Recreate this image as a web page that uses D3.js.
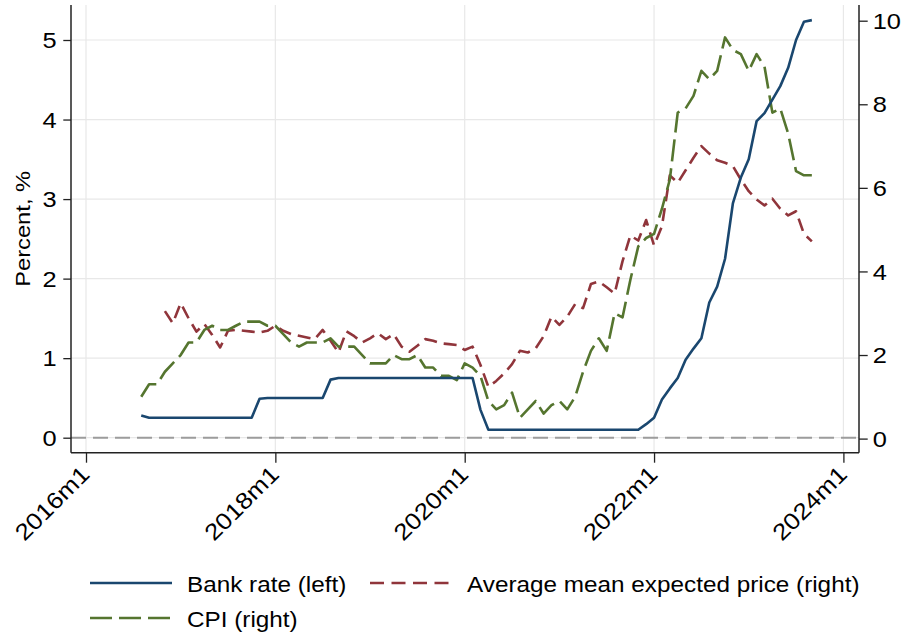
<!DOCTYPE html>
<html>
<head>
<meta charset="utf-8">
<script src="https://cdn.jsdelivr.net/npm/d3@7"></script>
<style>
  html, body { margin: 0; padding: 0; background: #fff; }
  svg { display: block; }
  text { font-family: "Liberation Sans", Arial, Helvetica, sans-serif; fill: #000; }
</style>
</head>
<body>
<svg id="chart" width="901" height="635"></svg>
<script>
// ---- data -------------------------------------------------------------
const xTickLabels = ["2016m1", "2018m1", "2020m1", "2022m1", "2024m1"];
const leftTicks = [0, 1, 2, 3, 4, 5];
const rightTicks = [0, 2, 4, 6, 8, 10];

// Bank rate, monthly average, % (left axis), from 2016m8
const bankStart = "2016m8";
const bankRate = [
  0.28, 0.25, 0.25, 0.25, 0.25,
  0.25, 0.25, 0.25, 0.25, 0.25, 0.25, 0.25, 0.25, 0.25, 0.25, 0.49, 0.50,
  0.50, 0.50, 0.50, 0.50, 0.50, 0.50, 0.50, 0.73, 0.75, 0.75, 0.75, 0.75,
  0.75, 0.75, 0.75, 0.75, 0.75, 0.75, 0.75, 0.75, 0.75, 0.75, 0.75, 0.75,
  0.75, 0.75, 0.35, 0.10, 0.10, 0.10, 0.10, 0.10, 0.10, 0.10, 0.10, 0.10,
  0.10, 0.10, 0.10, 0.10, 0.10, 0.10, 0.10, 0.10, 0.10, 0.10, 0.10, 0.17,
  0.25, 0.48, 0.62, 0.75, 0.98, 1.12, 1.25, 1.70, 1.90, 2.25, 2.95, 3.27,
  3.50, 3.98, 4.08, 4.25, 4.42, 4.65, 5.00, 5.23, 5.25
];

// CPI, annual % change (right axis), from 2016m8
const cpiStart = "2016m8";
const cpi = [
  1.0, 1.3, 1.3, 1.6, 1.8,
  2.0, 2.3, 2.3, 2.6, 2.7, 2.6, 2.6, 2.7, 2.8, 2.8, 2.8, 2.7,
  2.7, 2.5, 2.3, 2.2, 2.3, 2.3, 2.3, 2.4, 2.2, 2.2, 2.2, 2.0,
  1.8, 1.8, 1.8, 2.0, 1.9, 1.9, 2.0, 1.7, 1.7, 1.5, 1.5, 1.4,
  1.8, 1.7, 1.5, 0.9, 0.7, 0.8, 1.1, 0.5, 0.7, 0.9, 0.6, 0.8,
  0.9, 0.7, 1.0, 1.6, 2.1, 2.4, 2.1, 3.0, 2.9, 3.8, 4.6, 4.8,
  4.9, 5.5, 6.2, 7.8, 7.9, 8.2, 8.8, 8.6, 8.8, 9.6, 9.3, 9.2,
  8.8, 9.2, 8.9, 7.8, 7.9, 7.3, 6.4, 6.3, 6.3
];

// Average mean expected price growth, % (right axis), from 2016m11
const expStart = "2016m11";
const expectedPrice = [
  3.05, 2.76,
  3.24, 2.88, 2.56, 2.74, 2.48, 2.18, 2.58, 2.60, 2.58, 2.56, 2.54, 2.58,
  2.70, 2.58, 2.50, 2.46, 2.42, 2.38, 2.60, 2.34, 2.06, 2.57, 2.45, 2.30,
  2.40, 2.52, 2.38, 2.50, 2.20, 2.08, 2.22, 2.38, 2.34, 2.28, 2.26, 2.24,
  2.12, 2.20, 1.76, 1.24, 1.38, 1.56, 1.78, 2.10, 2.06, 2.16, 2.45, 2.92,
  2.72, 2.92, 3.22, 3.12, 3.70, 3.76, 3.62, 3.47, 4.24, 4.86, 4.74, 5.23,
  4.62, 5.08, 6.30, 6.12, 6.42, 6.72, 7.00, 6.82, 6.66, 6.60, 6.52, 6.20,
  5.92, 5.72, 5.58, 5.74, 5.50, 5.34, 5.44, 4.90, 4.72
];

const legendLabels = ["Bank rate (left)", "Average mean expected price (right)", "CPI (right)"];

// ---- helpers ----------------------------------------------------------
const monthIndex = s => { const [y, m] = s.split("m").map(Number); return (y - 2016) * 12 + (m - 1); };
const monthLabel = i => `${2016 + Math.floor(i / 12)}m${(i % 12) + 1}`;
const toPoints = (start, vals) => vals.map((v, k) => ({ i: monthIndex(start) + k, v }));

// ---- layout -----------------------------------------------------------
const svg = d3.select("#chart");
const W = 1.13;                       // horizontal widening of the typeface
const plot = { left: 71, right: 859, top: 5, bottom: 452.7 };
const colors = { bank: "#1a476f", exp: "#90353b", cpi: "#55752f" };

svg.append("rect").attr("width", 901).attr("height", 635).attr("fill", "#fff");

const x = d3.scaleLinear().domain([0, 96]).range([86, 843.4]);
const yL = d3.scaleLinear().domain([0, 5]).range([437.7, 40]);
const yR = d3.scaleLinear().domain([0, 10]).range([438.6, 20.7]);

const xTicks = xTickLabels.map(monthIndex);

// gridlines
const grid = svg.append("g").attr("stroke", "#e8e8e8").attr("stroke-width", 1.2);
grid.selectAll("line.v").data(xTicks).join("line")
  .attr("x1", d => x(d)).attr("x2", d => x(d))
  .attr("y1", plot.top).attr("y2", plot.bottom);
grid.selectAll("line.h").data(leftTicks).join("line")
  .attr("x1", plot.left).attr("x2", plot.right)
  .attr("y1", d => yL(d)).attr("y2", d => yL(d));

// zero reference line
svg.append("line")
  .attr("x1", plot.left).attr("x2", plot.right)
  .attr("y1", yL(0)).attr("y2", yL(0))
  .attr("stroke", "#9c9c9c").attr("stroke-width", 2)
  .attr("stroke-dasharray", "15 7");

// axes
const gL = svg.append("g").attr("transform", `translate(${plot.left},0)`)
  .call(d3.axisLeft(yL).tickValues(leftTicks).tickSize(7.7).tickPadding(6.6).tickFormat(d3.format("d")));
const gR = svg.append("g").attr("transform", `translate(${plot.right},0)`)
  .call(d3.axisRight(yR).tickValues(rightTicks).tickSize(8.7).tickPadding(5).tickFormat(d3.format("d")));
const gB = svg.append("g").attr("transform", `translate(0,${plot.bottom})`)
  .call(d3.axisBottom(x).tickValues(xTicks).tickSize(10).tickFormat(monthLabel));

[gL, gR, gB].forEach(g => {
  g.select(".domain").remove();
  g.selectAll(".tick line").attr("stroke", "#222").attr("stroke-width", 1.3);
  g.selectAll(".tick text").attr("font-size", 22.5).attr("fill", "#000");
});
[gL, gR].forEach(g => g.selectAll(".tick text").each(function () {
  const t = d3.select(this);
  const tx = +t.attr("x");
  t.attr("x", 0).attr("dy", "0.34em").attr("transform", `translate(${tx},0) scale(${W},1)`);
}));
gB.selectAll(".tick text")
  .attr("y", 0).attr("dy", null).attr("font-size", 23)
  .attr("text-anchor", "end")
  .attr("transform", `translate(4.5,23) rotate(-45) scale(${W},1)`);

// axis lines (left, bottom, right)
const frame = svg.append("g").attr("stroke", "#222").attr("stroke-width", 1.5).attr("fill", "none");
frame.append("line").attr("x1", plot.left).attr("x2", plot.left).attr("y1", plot.top).attr("y2", plot.bottom);
frame.append("line").attr("x1", plot.right).attr("x2", plot.right).attr("y1", plot.top).attr("y2", plot.bottom);
frame.append("line").attr("x1", plot.left).attr("x2", plot.right).attr("y1", plot.bottom).attr("y2", plot.bottom);

// axis title
svg.append("text")
  .attr("transform", `translate(30,${(plot.top + plot.bottom) / 2}) rotate(-90) scale(${W},1)`)
  .attr("text-anchor", "middle").attr("font-size", 21)
  .text("Percent, %");

// series
const lineL = d3.line().x(d => x(d.i)).y(d => yL(d.v));
const lineR = d3.line().x(d => x(d.i)).y(d => yR(d.v));
const series = [
  { pts: toPoints(expStart, expectedPrice), gen: lineR, color: colors.exp, dash: "13 7" },
  { pts: toPoints(cpiStart, cpi), gen: lineR, color: colors.cpi, dash: "22 7" },
  { pts: toPoints(bankStart, bankRate), gen: lineL, color: colors.bank, dash: null }
];
svg.append("g").selectAll("path").data(series).join("path")
  .attr("d", d => d.gen(d.pts))
  .attr("fill", "none")
  .attr("stroke", d => d.color)
  .attr("stroke-width", 2.6)
  .attr("stroke-linejoin", "round")
  .attr("stroke-dasharray", d => d.dash);

// legend
const legendItems = [
  { label: legendLabels[0], color: colors.bank, dash: null, x: 90, y: 583 },
  { label: legendLabels[1], color: colors.exp, dash: "14 7.5", x: 370, y: 583 },
  { label: legendLabels[2], color: colors.cpi, dash: "22 7", x: 90, y: 618 }
];
const lg = svg.append("g").selectAll("g").data(legendItems).join("g")
  .attr("transform", d => `translate(${d.x},${d.y})`);
lg.append("line").attr("x1", 0).attr("x2", 82).attr("y1", 0).attr("y2", 0)
  .attr("stroke", d => d.color).attr("stroke-width", 2.6)
  .attr("stroke-dasharray", d => d.dash);
lg.append("text")
  .attr("transform", `translate(97,8.5) scale(${W},1)`)
  .attr("font-size", 21.5)
  .text(d => d.label);
</script>
</body>
</html>
